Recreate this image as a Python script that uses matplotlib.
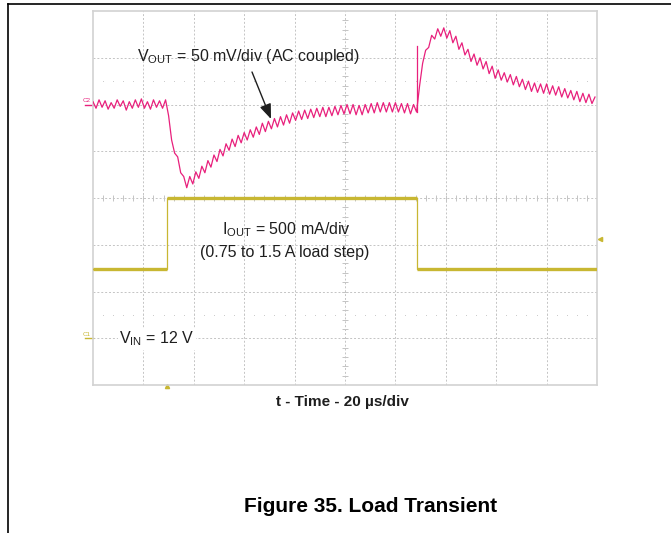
import matplotlib.pyplot as plt
import numpy as np

plt.rcParams["font.family"] = ["Liberation Sans", "DejaVu Sans"]

# Scope settings
T_DIV_US = 20.0  # time per division
VOUT_MV_DIV = 50.0
IOUT_A_DIV = 0.5
VOUT_REF_DIV = 2.0  # C2 marker position (divisions from centre)
IOUT_REF_DIV = -3.0  # C1 marker position

VOUT_DT_US = 1.2
VOUT_MV = [
    3, -4, 5, -3, 4, -5, 2, -4, 5, -2, 4, -6, 3, -4, 5, -3, 6, -4, 3, -5, 5, -3, 4, -4, 5,
    -12, -38, -52, -56, -73, -77,
    -89, -77, -85, -72, -79, -66, -73, -60, -67, -54,
    -61, -48, -55, -42, -49, -37, -45, -33, -41, -30,
    -38, -27, -35, -24, -32, -20, -29, -18, -26, -15,
    -24, -13, -22, -11, -20, -9, -17, -7, -16, -6,
    -15, -5, -14, -4, -13, -3, -13, -3, -12, -2,
    -11, -1, -10, 0, -10, 0, -11, -1, -11, 0,
    -9, 1, -9, 2, -8, 2, -8, 2, -8, 2,
    -8, 1, -9, 1, -10, 0, -8,
    20, 44, 58, 61, 74, 70, 81, 73, 82, 71,
    79, 66, 73, 59, 66, 53, 59, 46, 54, 42,
    50, 38, 46, 33, 41, 28, 37, 26, 34, 24,
    32, 21, 30, 19, 27, 16, 25, 14, 23, 13,
    22, 12, 22, 11, 20, 10, 19, 8, 17, 7,
    15, 5, 14, 3, 12, 2, 11, 1, 8,
]
VOUT_SPIKE_T_US = 128.6
VOUT_SPIKE_MV = [-8, 63]

# IOUT load step (A)
IOUT_T_US = [0.0, 29.4, 29.4, 128.7, 128.7, 200.0]
IOUT_A = [0.74, 0.74, 1.5, 1.5, 0.745, 0.745]

TRIG_T_US = 29.4
TRIG_LEVEL_DIV = -0.87

PINK = "#e8207c"
OLIVE = "#c8b732"
GRID = "#c4c4c4"
TEXT = "#1e1e1e"

fig = plt.figure(figsize=(6.71, 5.33), dpi=100)
W, H = 671, 533
x0, x1, y0, y1 = 93, 597, 11, 385
ax = fig.add_axes([x0 / W, 1 - y1 / H, (x1 - x0) / W, (y1 - y0) / H])
ax.set_xlim(0, 10 * T_DIV_US)
ax.set_ylim(-4, 4)
ax.set_xticks([])
ax.set_yticks([])
for sp in ax.spines.values():
    sp.set_color("#d2d2d2")
    sp.set_linewidth(1.2)

# graticule
for k in range(1, 10):
    ax.axvline(k * T_DIV_US, color=GRID, lw=0.7, ls=(0, (2, 2)), zorder=1)
for k in range(-3, 4):
    ax.axhline(k, color=GRID, lw=0.7, ls=(0, (2, 2)), zorder=1)
for yy in (2.5, -2.5):
    ax.plot(np.arange(1, 50) * T_DIV_US / 5, np.full(49, yy), ls="none",
            marker="s", ms=0.6, mew=0, color="#c8c8c8", zorder=1)
# centre axes with minor ticks
xt = np.arange(1, 50) * T_DIV_US / 5
ax.vlines(xt, -0.07, 0.07, color=GRID, lw=0.7, zorder=1)
yt = np.arange(-19, 20) * 0.2
ax.hlines(yt, 5 * T_DIV_US - 1.2, 5 * T_DIV_US + 1.2, color=GRID, lw=0.7, zorder=1)

# IOUT trace
iout_div = IOUT_REF_DIV + np.array(IOUT_A) / IOUT_A_DIV
ax.plot(IOUT_T_US, iout_div, color=OLIVE, lw=0.9, zorder=3)
for i in range(0, len(IOUT_T_US) - 1, 2):
    ax.plot(IOUT_T_US[i:i + 2], iout_div[i:i + 2], color=OLIVE, lw=2.4,
            solid_capstyle="butt", zorder=3)

# VOUT trace
t = np.arange(len(VOUT_MV)) * VOUT_DT_US
vout_div = VOUT_REF_DIV + np.array(VOUT_MV) / VOUT_MV_DIV
ax.plot(t, vout_div, color=PINK, lw=0.9, zorder=4)
ax.plot([VOUT_SPIKE_T_US] * 2, VOUT_REF_DIV + np.array(VOUT_SPIKE_MV) / VOUT_MV_DIV,
        color=PINK, lw=0.9, zorder=4)

# channel markers
ax.text(-0.9, VOUT_REF_DIV + 0.03, "C2", color=PINK, fontsize=4.5,
        ha="right", va="bottom", clip_on=False)
ax.plot([-3.2, 0], [VOUT_REF_DIV] * 2, color=PINK, lw=1.0, clip_on=False)
ax.text(-0.9, IOUT_REF_DIV + 0.03, "C1", color=OLIVE, fontsize=4.5,
        ha="right", va="bottom", clip_on=False)
ax.plot([-3.2, 0], [IOUT_REF_DIV] * 2, color=OLIVE, lw=1.0, clip_on=False)
ax.plot([TRIG_T_US], [-4.02], marker="^", ms=3, color=OLIVE, clip_on=False)
ax.plot([201.3], [TRIG_LEVEL_DIV], marker="<", ms=3, color=OLIVE, clip_on=False)

# annotations
fig.text(137 / W, 1 - 57 / H, r"V$_\mathregular{OUT}$ = 50 mV/div (AC coupled)",
         fontsize=11.5, color=TEXT, ha="left", va="center")
plt.annotate("", xy=(271 / W, 1 - 119 / H), xytext=(252 / W, 1 - 72 / H),
             xycoords="figure fraction", textcoords="figure fraction",
             arrowprops=dict(arrowstyle="-|>,head_length=0.9,head_width=0.35",
                             color=TEXT, lw=1.0, shrinkA=0, shrinkB=0))
fig.text(286 / W, 1 - 230 / H, r"I$_\mathregular{OUT}$ = 500 mA/div",
         fontsize=11.5, color=TEXT, ha="center", va="center")
fig.text(285 / W, 1 - 252 / H, "(0.75 to 1.5 A load step)",
         fontsize=11.5, color=TEXT, ha="center", va="center")
fig.text(119 / W, 1 - 339 / H, r"V$_\mathregular{IN}$ = 12 V",
         fontsize=11.5, color=TEXT, ha="left", va="center",
         bbox=dict(facecolor="white", edgecolor="none", pad=1))
fig.text(342 / W, 1 - 402 / H, "t - Time - 20 \u00b5s/div", fontsize=11,
         fontweight="bold", color=TEXT, ha="center", va="center")
fig.text(371 / W, 1 - 506 / H, "Figure 35. Load Transient", fontsize=15,
         fontweight="bold", color="black", ha="center", va="center")

# page border
fig.add_artist(plt.Line2D([8 / W, 1], [1 - 4 / H] * 2, color="black", lw=1.2))
fig.add_artist(plt.Line2D([8 / W] * 2, [0, 1 - 4 / H], color="black", lw=1.2))

fig.savefig("out.png", dpi=100)
